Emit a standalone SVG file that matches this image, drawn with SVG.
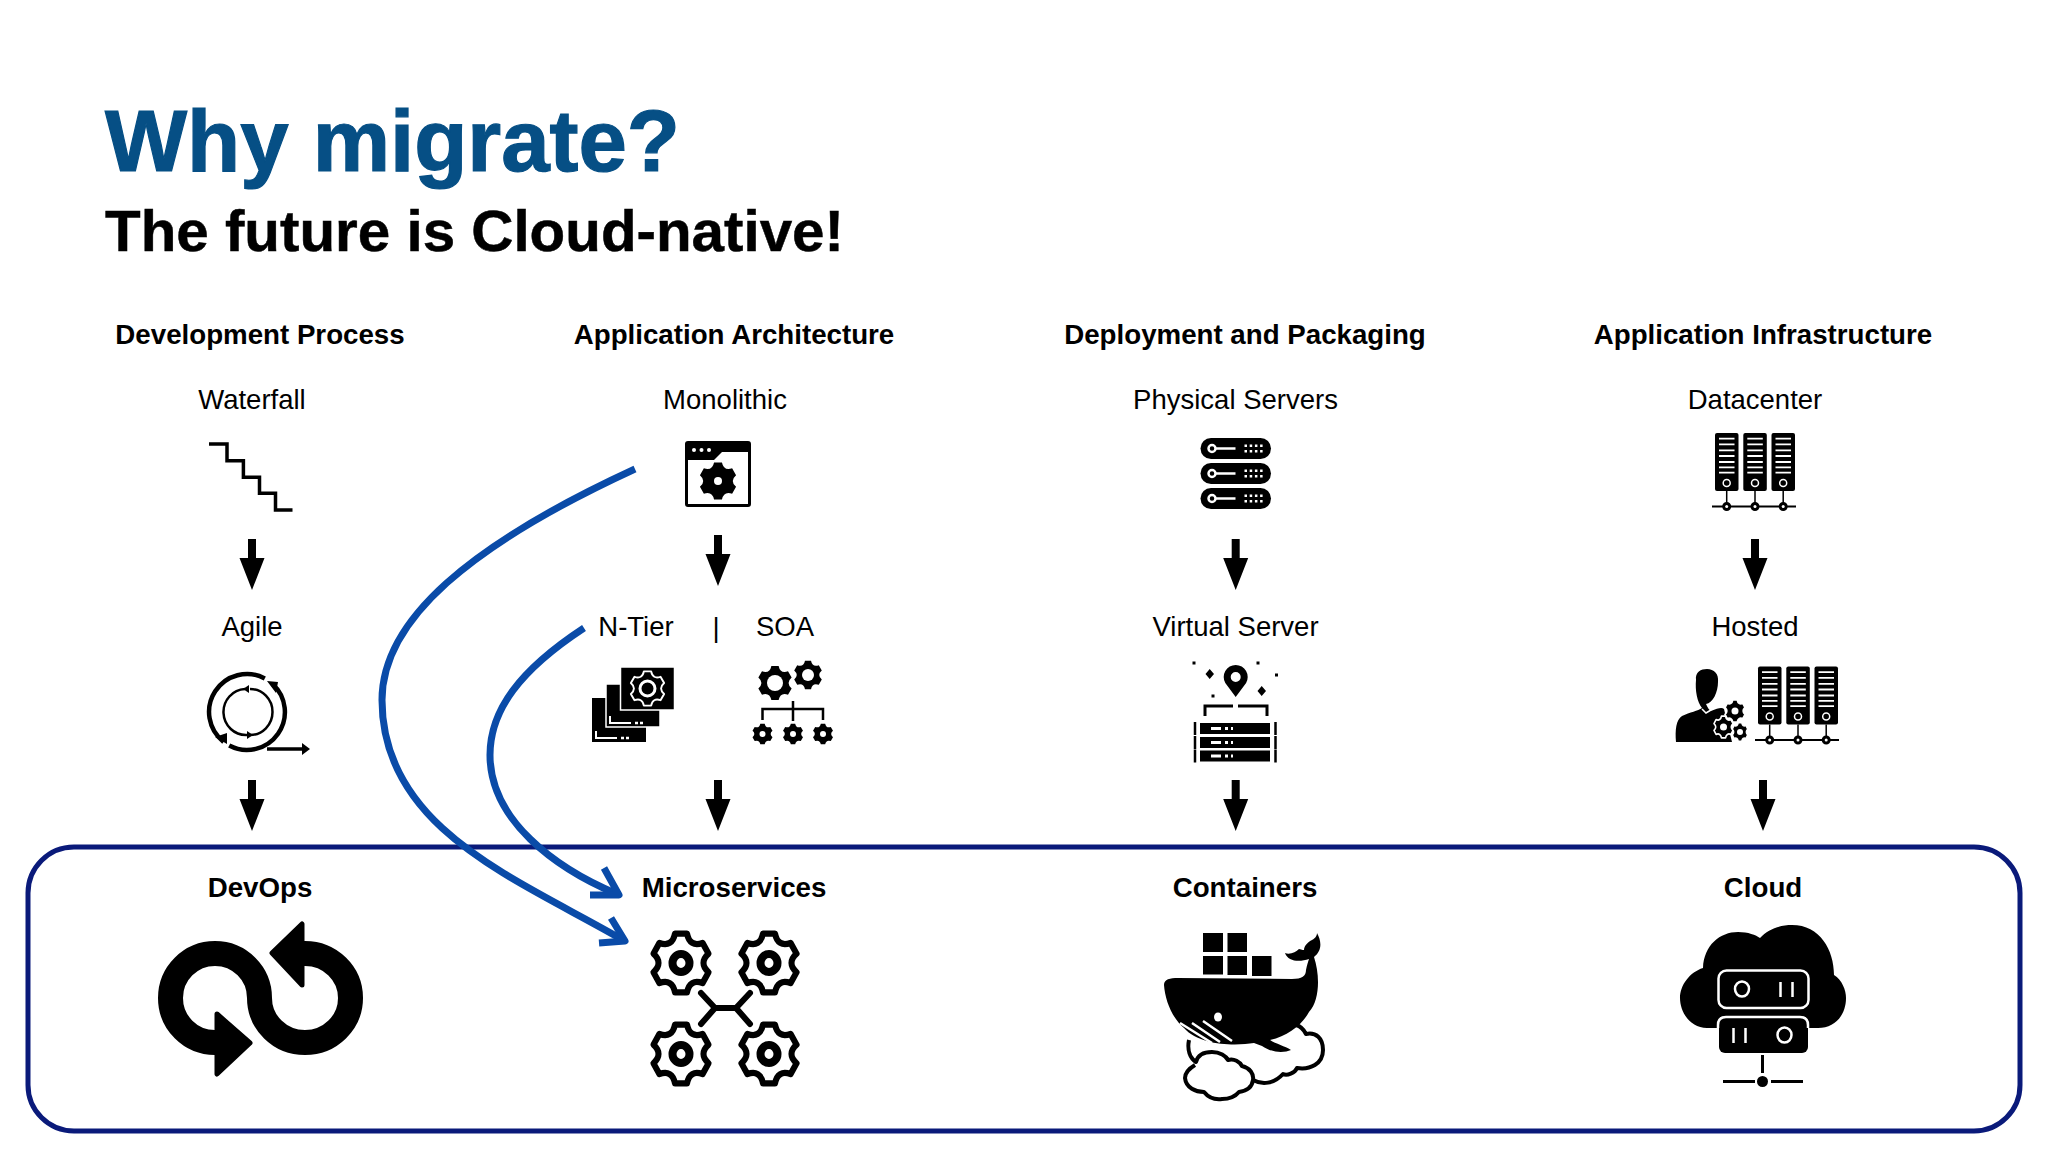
<svg xmlns="http://www.w3.org/2000/svg" width="2048" height="1152" viewBox="0 0 2048 1152">
<style>
text{font-family:"Liberation Sans",Arial,sans-serif;fill:#000;text-anchor:middle}
.h{font-weight:700;font-size:27.700px}
.l{font-size:27.500px}
.w{fill:#fff}
.ws{stroke:#fff;fill:none}
.k{fill:#000}
.ks{stroke:#000;fill:none}
</style>
<defs>
<path id="gearS" stroke-linejoin="round" d="M-20.800 -97.800L20.800 -97.800Q30 -52 74.300 -66.900L95.100 -30.900Q60 0 95.100 30.900L74.300 66.900Q30 52 20.800 97.800L-20.800 97.800Q-30 52 -74.300 66.900L-95.100 30.900Q-60 0 -95.100 -30.900L-74.300 -66.900Q-30 -52 -20.800 -97.800Z"/>
<g id="gearOut"><use href="#gearS" transform="scale(.29,.3)" fill="none" stroke="#000" stroke-width="21"/><ellipse rx="8.500" ry="9" fill="none" stroke="#000" stroke-width="8"/></g>
<path id="arrow" d="M-4 0H4V19H12.500L0 51L-12.500 19H-4Z"/>
<g id="tower"><rect x="0" y="0" width="23.500" height="58" rx="2"/>
<path d="M4 5.600H19.500M4 11.300H19.500M4 17.300H19.500M4 23H19.500M4 29H19.500M4 34.300H19.500M4 39.600H19.500" stroke="#fff" stroke-width="1.800"/>
<circle cx="11.700" cy="50" r="3.500" fill="none" stroke="#fff" stroke-width="1.500"/></g>
<g id="towers"><use href="#tower"/><use href="#tower" x="28.300"/><use href="#tower" x="56.500"/>
<path d="M11.700 58V73M40 58V73M68.200 58V73" stroke="#000" stroke-width="1.500"/>
<path d="M-3 73.500H81" stroke="#000" stroke-width="2"/>
<g fill="#000" stroke="#000"><circle cx="11.700" cy="73.500" r="3.500" stroke-width="2"/><circle cx="40" cy="73.500" r="3.500" stroke-width="2"/><circle cx="68.200" cy="73.500" r="3.500" stroke-width="2"/></g>
<circle cx="11.700" cy="73.500" r="1.500" fill="#fff"/><circle cx="40" cy="73.500" r="1.500" fill="#fff"/><circle cx="68.200" cy="73.500" r="1.500" fill="#fff"/></g>
<g id="pill"><rect x="0" y="0" width="70.500" height="21" rx="10.500"/><circle cx="11.500" cy="10.500" r="3.500" fill="none" stroke="#fff" stroke-width="2.500"/><path d="M15 10.500H35" stroke="#fff" stroke-width="2.500"/>
<path d="M44 7.800H63.500M44 13.200H63.500" stroke="#fff" stroke-width="2.500" stroke-dasharray="2.500 2.700"/></g>
<g id="rack"><rect x="5" y="0" width="70" height="11"/><path d="M16 5.500H26" stroke="#fff" stroke-width="3"/><path d="M30 5.500H38" stroke="#fff" stroke-width="3" stroke-dasharray="3 3"/><path d="M0 -1V12M80.500 -1V12" stroke="#000" stroke-width="2.500"/></g>
</defs>

<g id="title"><text x="105" y="171" font-size="87" font-weight="700" stroke="#064f85" stroke-width="1.200" style="text-anchor:start;fill:#064f85" textLength="575" lengthAdjust="spacingAndGlyphs">Why migrate?</text>
<text x="105" y="251" font-size="58" font-weight="700" stroke="#000" stroke-width=".5" style="text-anchor:start" textLength="739" lengthAdjust="spacingAndGlyphs">The future is Cloud-native!</text></g>

<g id="frame"><rect x="28" y="847" width="1992" height="284" rx="46" fill="none" stroke="#0a1a7a" stroke-width="5"/></g>

<g id="col-dev">
<g id="node-devprocess"><text class="h" x="260" y="344">Development Process</text></g>
<g id="node-waterfall"><text class="l" x="252" y="409">Waterfall</text>
<path class="ks" stroke-width="3.500" d="M209 444H227V460.700H243.400V477.300H259.500V493.300H275.500V510H292.500"/></g>
<g id="node-agile"><text class="l" x="252" y="636">Agile</text>
<g class="ks">
<path stroke-width="4.500" d="M264.800 678.400A38 38 0 0 0 223.600 741.900M229.200 745.600A38 38 0 0 0 272.400 683.800"/>
<path stroke-width="2.500" d="M245 689A22.500 23 0 0 0 247 735M250 735A22.500 23 0 0 0 250 689"/>
<path stroke-width="3.500" d="M267 749H302"/></g>
<path class="k" d="M215 737L227 733L227 744ZM267 681L278 682L276 693ZM302 743L310 749L302 755ZM243 689L249 685L249 693ZM253 735L247 731L247 739Z"/></g>
<g id="node-devops"><text class="h" x="260" y="897">DevOps</text>
<path class="ks" stroke-width="25" d="M217 1042.500H215A44.500 44.500 0 1 1 259.500 998A45.500 44.500 0 1 0 305 953.500H302"/>
<path class="k" stroke="#000" stroke-width="5" stroke-linejoin="round" d="M217 1014L250 1043L217 1074ZM272 953L302 924V985Z"/></g>
</g>

<g id="col-arch">
<g id="node-apparch"><text class="h" x="734" y="344">Application Architecture</text></g>
<g id="node-monolithic"><text class="l" x="725" y="409">Monolithic</text>
<rect x="686.500" y="442.500" width="63" height="63" rx="1.500" fill="#fff" stroke="#000" stroke-width="3"/>
<path class="k" d="M686 442H750V452H722L714 460H686Z"/>
<circle class="w" cx="694" cy="450" r="2"/><circle class="w" cx="701.500" cy="450" r="2"/><circle class="w" cx="709" cy="450" r="2"/>
<use href="#gearS" transform="translate(718,481) scale(.19,.19)"/><circle class="w" cx="718" cy="481" r="4"/></g>
<g id="node-ntier"><text class="l" x="636" y="636">N-Tier</text>
<rect class="k" x="592" y="698" width="54" height="44"/><path class="ws" stroke-width="2" d="M596 731V738H617"/><path class="ws" stroke-width="2.500" d="M621 738H631" stroke-dasharray="3 2"/>
<rect class="k" x="606" y="684" width="54" height="43" stroke="#fff" stroke-width="1.500"/><path class="ws" stroke-width="2" d="M610 716V723H631"/><path class="ws" stroke-width="2.500" d="M635 723H645" stroke-dasharray="3 2"/>
<rect class="k" x="620.500" y="667" width="54" height="43" stroke="#fff" stroke-width="1.500"/>
<use href="#gearS" transform="translate(647.500,688.500) scale(.175,.175)" fill="none" stroke="#fff" stroke-width="11"/><circle cx="647.500" cy="688.500" r="7.500" fill="none" stroke="#fff" stroke-width="3"/></g>
<g id="node-sep"><text class="l" x="716" y="637">|</text></g>
<g id="node-soa"><text class="l" x="785" y="636">SOA</text>
<use href="#gearS" transform="translate(775,683) scale(.175,.175)"/><circle class="w" cx="775" cy="683" r="8"/>
<use href="#gearS" transform="translate(808,675) scale(.145,.145)"/><circle class="w" cx="808" cy="675" r="6"/>
<path class="ks" stroke-width="2.500" d="M762.500 720V709H823V720M793 701V721"/>
<use href="#gearS" transform="translate(762.500,734) scale(.105,.105)"/><use href="#gearS" transform="translate(793,734) scale(.105,.105)"/><use href="#gearS" transform="translate(823,734) scale(.105,.105)"/>
<circle class="w" cx="762.500" cy="734" r="3"/><circle class="w" cx="793" cy="734" r="3"/><circle class="w" cx="823" cy="734" r="3"/></g>
<g id="node-microservices"><text class="h" x="734" y="897">Microservices</text>
<use href="#gearOut" x="681" y="963"/><use href="#gearOut" x="769" y="963"/><use href="#gearOut" x="681" y="1054"/><use href="#gearOut" x="769" y="1054"/>
<path class="ks" stroke-width="6" stroke-linecap="round" stroke-linejoin="round" d="M701 993L715 1008L701 1024M750 993L736 1008L750 1024M715 1008H736"/></g>
</g>

<g id="col-deploy">
<g id="node-deploy"><text class="h" x="1245" y="344">Deployment and Packaging</text></g>
<g id="node-physical"><text class="l" x="1235.500" y="409">Physical Servers</text>
<use href="#pill" x="1200.500" y="438"/><use href="#pill" x="1200.500" y="463"/><use href="#pill" x="1200.500" y="488"/></g>
<g id="node-virtual"><text class="l" x="1235.500" y="636">Virtual Server</text>
<path class="k" fill-rule="evenodd" d="M1235.700 697L1225.300 683A12 12 0 1 1 1246.100 683ZM1235.700 672A5 5 0 1 0 1235.700 682A5 5 0 1 0 1235.700 672Z"/>
<rect class="k" x="1192.500" y="661.500" width="3" height="3"/><rect class="k" x="1256.500" y="661.500" width="3" height="3"/><rect class="k" x="1275" y="673.500" width="3" height="3"/><rect class="k" x="1211.500" y="694.500" width="3" height="3"/>
<path class="k" d="M1209.700 669L1214 674L1209.700 679L1205.500 674ZM1261.700 686L1266 691L1261.700 696L1257.500 691Z"/>
<path class="ks" stroke-width="3" d="M1205 716V706H1233M1238 706H1267V716"/>
<use href="#rack" x="1195" y="723"/><use href="#rack" x="1195" y="737"/><use href="#rack" x="1195" y="750.500"/></g>
<g id="node-containers"><text class="h" x="1245" y="897">Containers</text>
<g class="k"><rect x="1203" y="933" width="20" height="19"/><rect x="1227.500" y="933" width="19.500" height="19"/><rect x="1203" y="956" width="20" height="18.500"/><rect x="1227.500" y="956" width="19.500" height="19"/><rect x="1252" y="956" width="19.500" height="20"/></g>
<path class="ks" stroke-width="4" stroke-linejoin="round" d="M1189 1040C1187 1050 1190 1058 1196 1062C1198 1054 1204 1052 1212 1052C1220 1052 1226 1056 1228 1060C1234 1058 1240 1062 1242 1066C1250 1068 1254 1074 1253 1080C1252 1088 1246 1091 1239 1092C1234 1098 1228 1099 1222 1099C1214 1100 1208 1097 1204 1092C1196 1092 1186 1088 1185 1078C1185 1072 1190 1068 1195 1065M1253 1080C1262 1085 1274 1084 1283 1074C1287 1076 1295 1073 1297 1068C1310 1070 1323 1064 1323 1050C1323 1038 1316 1032 1306 1034C1304 1030 1300 1026 1296 1025"/>
<path class="k" d="M1164 985C1164 979 1170 978 1178 978L1292 979C1302 979 1306 976 1306 970C1307 965 1308 962 1309 959C1300 962 1288 962 1285 953C1290 955 1296 952 1299 949C1302 950 1304 950 1304 950C1304 946 1308 942 1312 940C1316 938 1317 935 1317 933C1321 940 1323 950 1314 957C1320 975 1320 1000 1309 1012C1302 1025 1288 1036 1270 1040C1276 1044 1285 1046 1291 1050C1284 1053 1272 1053 1262 1046L1254 1043C1236 1046 1200 1046 1184 1028C1172 1018 1165 1000 1164 985Z"/>
<ellipse class="w" cx="1218" cy="1017" rx="4" ry="4.500"/>
<path class="ws" stroke-width="2.500" d="M1180 1023L1212 1043M1192 1023L1220 1042M1203 1021L1232 1041"/>
</g>
</g>

<g id="col-infra">
<g id="node-infra"><text class="h" x="1763" y="344">Application Infrastructure</text></g>
<g id="node-datacenter"><text class="l" x="1755" y="409">Datacenter</text><use href="#towers" x="1715" y="433"/></g>
<g id="node-hosted"><text class="l" x="1755" y="636">Hosted</text><use href="#towers" x="1758" y="666.500"/>
<path class="k" d="M1696 680C1695 672 1701 669 1707 669C1714 669 1719 674 1718 682C1718 692 1713 703 1706 704C1708 708 1709 710 1711 711C1718 708 1722 707 1724 709L1732 742H1676C1675 730 1676 720 1682 716C1690 712 1698 711 1702 708C1697 702 1695 690 1696 680Z"/>
<path class="ws" stroke-width="1.500" d="M1702 709L1706 713L1711 710"/>
<use href="#gearS" transform="translate(1735,711) scale(.105,.115)" fill="#000" stroke="#fff" stroke-width="16"/><circle class="w" cx="1735" cy="711" r="3.500"/>
<use href="#gearS" transform="translate(1723.500,727) scale(.1,.11)" fill="#000" stroke="#fff" stroke-width="16"/><circle class="w" cx="1723.500" cy="727" r="3.500"/>
<use href="#gearS" transform="translate(1740,732) scale(.08,.095)" fill="#000" stroke="#fff" stroke-width="16"/><circle class="w" cx="1740" cy="732" r="3"/></g>
<g id="node-cloud"><text class="h" x="1763" y="897">Cloud</text>
<path class="k" d="M1707 1028C1690 1028 1680 1012 1680 998C1680 985 1690 972 1703 968C1704 945 1720 932 1738 932C1748 932 1756 935 1760 938C1768 929 1780 925 1792 925C1820 925 1834 950 1834 975C1842 980 1846 990 1846 998C1846 1015 1835 1028 1818 1028Z"/>
<rect x="1718.500" y="970.500" width="90" height="37.500" rx="8" fill="none" stroke="#fff" stroke-width="2.500"/>
<rect class="k" x="1719" y="1017" width="89" height="36" rx="6"/>
<path class="ws" stroke-width="2.500" d="M1718 1028V1025Q1718 1017 1726 1017H1800Q1808 1017 1808 1025V1028"/>
<ellipse cx="1742" cy="989" rx="7" ry="7.500" fill="none" stroke="#fff" stroke-width="2.500"/>
<path class="ws" stroke-width="2.500" d="M1780.500 982V997M1792.500 982V997M1733.500 1028V1043M1745.500 1028V1043"/>
<ellipse cx="1784.500" cy="1035" rx="7" ry="7.500" fill="none" stroke="#fff" stroke-width="2.500"/>
<path class="ks" stroke-width="3" d="M1762.500 1055V1073M1723 1081.500H1755M1771 1081.500H1803"/>
<circle class="k" cx="1762.500" cy="1081.500" r="5.500"/></g>
</g>

<g id="connectors">
<use href="#arrow" x="252" y="539"/><use href="#arrow" x="718" y="535"/><use href="#arrow" x="1235.700" y="539"/><use href="#arrow" x="1755" y="539"/>
<use href="#arrow" x="252" y="780"/><use href="#arrow" x="718" y="780"/><use href="#arrow" x="1235.700" y="780"/><use href="#arrow" x="1763" y="780"/>
<g fill="none" stroke="#0a4ba8" stroke-width="7">
<path d="M635 469C470 545 382 620 382 700C382 830 520 880 623 940"/>
<path d="M584 628C520 670 490 710 490 755C490 820 555 868 617 894"/>
<path stroke-linejoin="round" d="M611 918L625 941L599 943M604 868L619 895L590 895"/>
</g></g>
</svg>
